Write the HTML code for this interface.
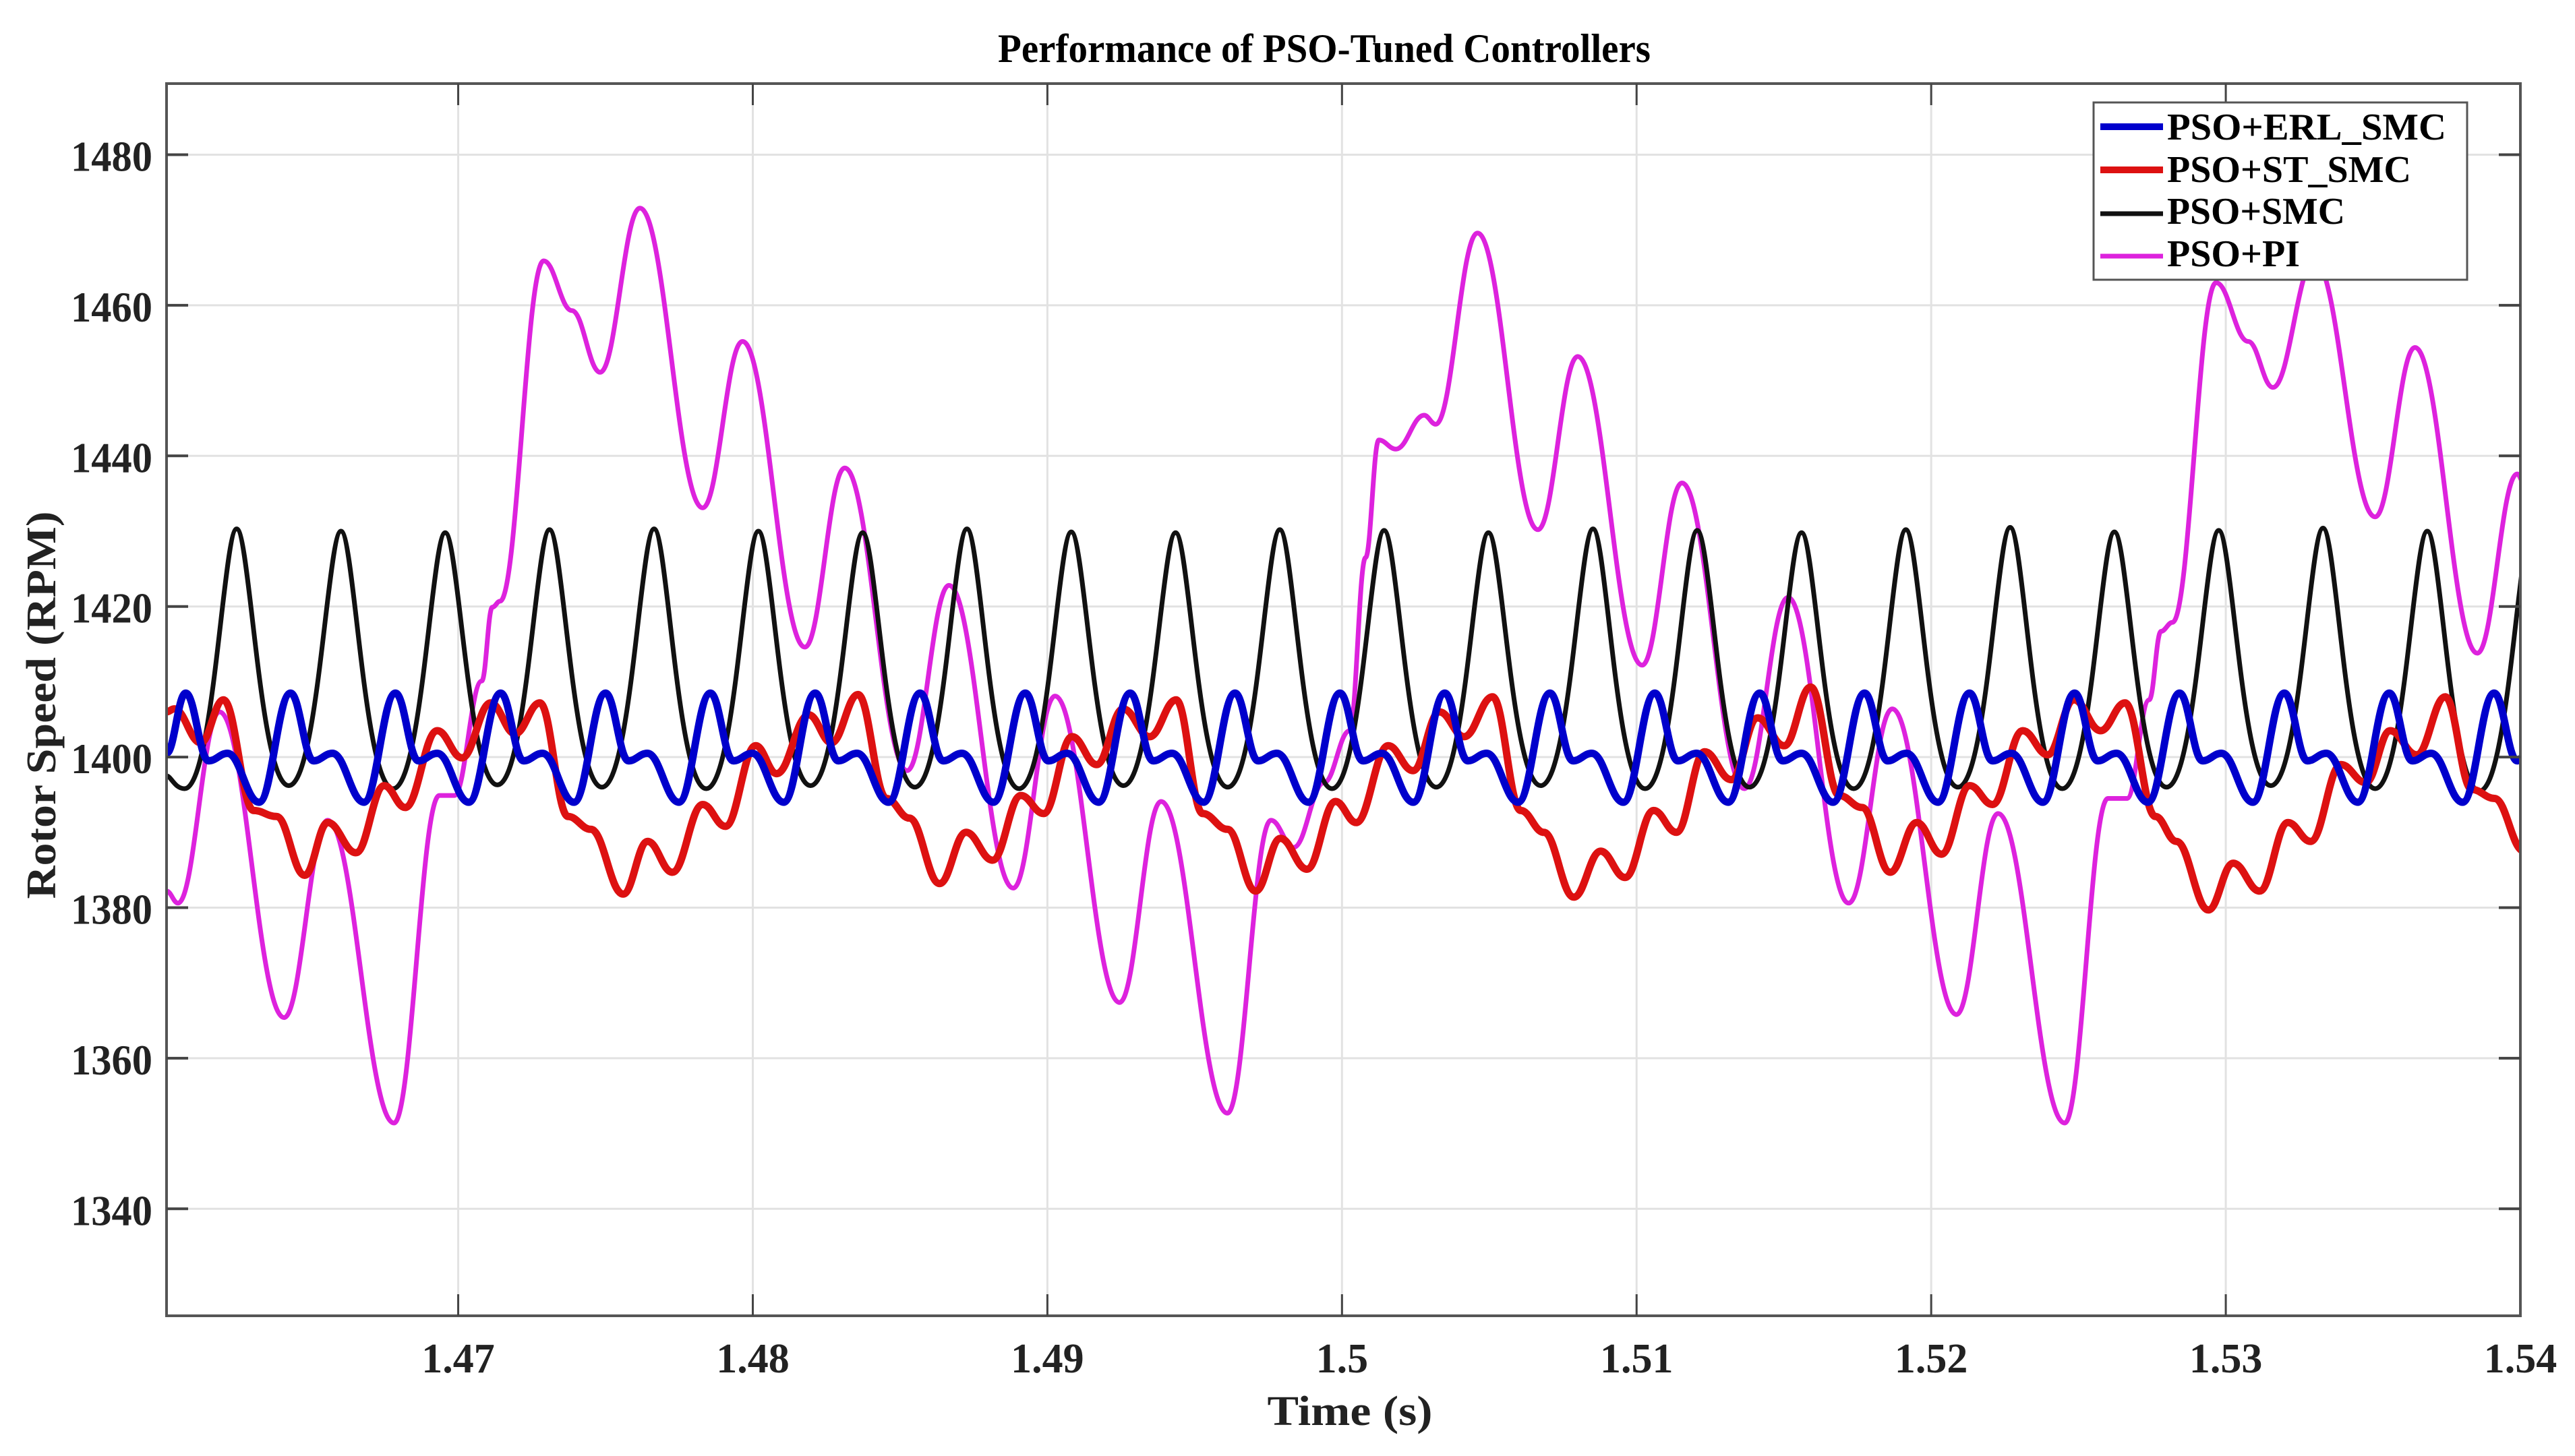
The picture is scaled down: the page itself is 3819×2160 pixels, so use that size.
<!DOCTYPE html>
<html><head><meta charset="utf-8"><style>
html,body{margin:0;padding:0;background:#fff;}
svg{display:block;font-family:"Liberation Serif",serif;font-weight:bold;}
</style></head><body>
<svg id="chart" xmlns="http://www.w3.org/2000/svg" width="3819" height="2160" viewBox="0 0 3819 2160">
<rect width="3819" height="2160" fill="#fff"/>
<text x="1964" y="92" text-anchor="middle" font-size="60" textLength="968" lengthAdjust="spacingAndGlyphs" fill="#000">Performance of PSO-Tuned Controllers</text>
<g id="grid"></g>
<defs><clipPath id="plotclip"><rect x="247" y="124" width="3491" height="1828"/></clipPath></defs>
<g id="series" clip-path="url(#plotclip)"></g>
<rect x="247" y="124" width="3491" height="1828" fill="none" stroke="#555" stroke-width="4"/>
<g id="ticks"></g>
<text transform="translate(82,1046) rotate(-90)" text-anchor="middle" font-size="62" textLength="575" lengthAdjust="spacingAndGlyphs" fill="#222">Rotor Speed (RPM)</text>
<text x="2002" y="2114" text-anchor="middle" font-size="62" textLength="245" lengthAdjust="spacingAndGlyphs" fill="#222">Time (s)</text>
<g>
<rect x="3105" y="152" width="554" height="263" fill="#fff" stroke="#555" stroke-width="3"/>
<line x1="3115" y1="188" x2="3208" y2="188" stroke="#0000cc" stroke-width="10"/>
<text x="3214" y="207" font-size="56" textLength="414" lengthAdjust="spacingAndGlyphs">PSO+ERL_SMC</text>
<line x1="3115" y1="252" x2="3208" y2="252" stroke="#dd1111" stroke-width="10"/>
<text x="3214" y="270" font-size="56" textLength="362" lengthAdjust="spacingAndGlyphs">PSO+ST_SMC</text>
<line x1="3115" y1="317" x2="3208" y2="317" stroke="#111" stroke-width="7"/>
<text x="3214" y="332" font-size="56" textLength="264" lengthAdjust="spacingAndGlyphs">PSO+SMC</text>
<line x1="3115" y1="380" x2="3208" y2="380" stroke="#dd22dd" stroke-width="7"/>
<text x="3214" y="395" font-size="56" textLength="197" lengthAdjust="spacingAndGlyphs">PSO+PI</text>
</g>
</svg>
<script>
const xTicks = [1.47,1.48,1.49,1.50,1.51,1.52,1.53,1.54];
const xTickLabels = ["1.47","1.48","1.49","1.5","1.51","1.52","1.53","1.54"];
const yTicks = [1340,1360,1380,1400,1420,1440,1460,1480];
const yTickLabels = ["1340","1360","1380","1400","1420","1440","1460","1480"];

const blueT = [1.4601,1.46075,1.46153,1.46217,1.46324,1.46431,1.46509,1.46573,1.46680,1.46787,1.46865,1.46929,1.47036,1.47144,1.47222,1.47286,1.47393,1.47500,1.47578,1.47642,1.47749,1.47856,1.47934,1.47998,1.48105,1.48212,1.48290,1.48354,1.48461,1.48568,1.48646,1.48710,1.48817,1.48925,1.49003,1.49067,1.49174,1.49281,1.49359,1.49423,1.49530,1.49637,1.49715,1.49779,1.49886,1.49993,1.50071,1.50135,1.50242,1.50349,1.50427,1.50491,1.50598,1.50706,1.50784,1.50848,1.50955,1.51062,1.51140,1.51204,1.51311,1.51418,1.51496,1.51560,1.51667,1.51774,1.51852,1.51916,1.52023,1.52130,1.52208,1.52272,1.52379,1.52487,1.52565,1.52629,1.52736,1.52843,1.52921,1.52985,1.53092,1.53199,1.53277,1.53341,1.53448,1.53555,1.53633,1.53697,1.53804,1.53911,1.53989,1.5401];
const blueV = [1400.5,1408.5,1399.5,1400.5,1394,1408.5,1399.5,1400.5,1394,1408.5,1399.5,1400.5,1394,1408.5,1399.5,1400.5,1394,1408.5,1399.5,1400.5,1394,1408.5,1399.5,1400.5,1394,1408.5,1399.5,1400.5,1394,1408.5,1399.5,1400.5,1394,1408.5,1399.5,1400.5,1394,1408.5,1399.5,1400.5,1394,1408.5,1399.5,1400.5,1394,1408.5,1399.5,1400.5,1394,1408.5,1399.5,1400.5,1394,1408.5,1399.5,1400.5,1394,1408.5,1399.5,1400.5,1394,1408.5,1399.5,1400.5,1394,1408.5,1399.5,1400.5,1394,1408.5,1399.5,1400.5,1394,1408.5,1399.5,1400.5,1394,1408.5,1399.5,1400.5,1394,1408.5,1399.5,1400.5,1394,1408.5,1399.5,1400.5,1394,1408.5,1399.5,1400];

const blackT = [1.4601,1.46071,1.46248,1.46425,1.46602,1.46779,1.46956,1.47133,1.47310,1.47488,1.47665,1.47842,1.48019,1.48196,1.48373,1.48550,1.48727,1.48904,1.49081,1.49258,1.49435,1.49612,1.49789,1.49966,1.50143,1.50320,1.50497,1.50675,1.50852,1.51029,1.51206,1.51383,1.51560,1.51737,1.51914,1.52091,1.52268,1.52445,1.52622,1.52799,1.52976,1.53153,1.53330,1.53507,1.53684,1.53861,1.54038];
const blackV = [1397.5,1395.8,1430.3,1396.2,1430.0,1395.8,1429.8,1396.3,1430.2,1396.0,1430.3,1395.8,1430.0,1396.2,1429.8,1396.0,1430.3,1395.8,1429.9,1396.2,1429.8,1396.0,1430.2,1395.8,1430.1,1396.0,1429.8,1396.2,1430.3,1395.8,1430.1,1396.0,1429.8,1395.8,1430.2,1396.0,1430.5,1395.8,1429.9,1396.0,1430.1,1396.2,1430.4,1395.8,1430.0,1395.5,1430.0];

const redT = [1.4601,1.46036,1.46126,1.46203,1.46306,1.46383,1.46479,1.46557,1.46653,1.46749,1.46820,1.46929,1.47013,1.47110,1.47193,1.47277,1.47373,1.47450,1.47560,1.47643,1.47727,1.47830,1.47907,1.48010,1.48081,1.48190,1.48267,1.48357,1.48454,1.48531,1.48634,1.48724,1.48814,1.48910,1.48987,1.49084,1.49167,1.49257,1.49347,1.49437,1.49527,1.49611,1.49707,1.49791,1.49881,1.49978,1.50048,1.50157,1.50241,1.50331,1.50415,1.50511,1.50607,1.50685,1.50787,1.50878,1.50961,1.51058,1.51135,1.51231,1.51321,1.51411,1.51501,1.51591,1.51688,1.51765,1.51861,1.51951,1.52035,1.52131,1.52208,1.52311,1.52395,1.52485,1.52575,1.52658,1.52761,1.52832,1.52941,1.53025,1.53115,1.53211,1.53288,1.53391,1.53475,1.53558,1.53648,1.53745,1.53835,1.53912,1.54012];
const redV = [1406,1406.4,1401.9,1407.6,1392.9,1392.1,1384.3,1391.3,1387.3,1396.2,1393.3,1403.5,1399.9,1407.2,1403.1,1407.2,1392.1,1390.4,1381.8,1388.8,1384.7,1393.7,1390.8,1401.5,1397.8,1405.6,1401.9,1408.3,1394.5,1391.9,1383.2,1390.0,1386.3,1394.9,1392.5,1402.7,1399.0,1406.4,1402.7,1407.6,1392.5,1390.4,1382.2,1389.2,1385.1,1394.1,1391.3,1401.5,1398.2,1406.0,1402.7,1408.0,1392.9,1390.0,1381.4,1387.5,1384.0,1392.9,1390.0,1400.7,1397.0,1405.2,1401.5,1409.3,1394.9,1393.3,1384.7,1391.3,1387.1,1396.2,1393.7,1403.5,1400.3,1407.6,1403.5,1407.2,1392.1,1388.8,1379.7,1385.9,1382.2,1391.3,1388.8,1399.0,1396.6,1403.5,1400.3,1408.0,1395.7,1394.5,1387.5];

const piT = [1.4601,1.46049,1.46190,1.46409,1.46557,1.46782,1.46936,1.46987,1.47080,1.47116,1.47142,1.47290,1.47386,1.47482,1.47617,1.47830,1.47965,1.48177,1.48312,1.48524,1.48666,1.48884,1.49026,1.49245,1.49386,1.49611,1.49759,1.49836,1.49939,1.50026,1.50080,1.50125,1.50183,1.50279,1.50318,1.50460,1.50665,1.50800,1.51019,1.51154,1.51366,1.51514,1.51720,1.51868,1.52086,1.52227,1.52453,1.52600,1.52665,1.52740,1.52780,1.52819,1.52967,1.53076,1.53160,1.53301,1.53507,1.53642,1.53854,1.53989,1.54012];
const piV = [1382.2,1380.6,1406.0,1365.4,1391.6,1351.4,1394.9,1394.9,1410.1,1419.9,1420.7,1465.9,1459.3,1451.1,1472.9,1433.1,1455.2,1414.6,1438.4,1398.2,1422.8,1382.6,1408.1,1367.4,1394.1,1352.7,1391.6,1388.0,1396.6,1403.5,1426.5,1442.1,1440.9,1445.4,1444.2,1469.6,1430.2,1453.2,1412.2,1436.4,1395.8,1421.2,1380.6,1406.4,1365.8,1392.5,1351.4,1394.5,1394.5,1407.6,1416.7,1417.9,1463.0,1455.2,1449.1,1466.0,1431.9,1454.4,1413.8,1437.6,1436.4];

const NS = "http://www.w3.org/2000/svg";
const X0 = 247, X1 = 3738, T0 = 1.4601, T1 = 1.54;
const Y1480 = 229.5, PXPER = 11.17;
function xs(t){ return X0 + (t - T0) / (T1 - T0) * (X1 - X0); }
function ys(v){ return Y1480 + (1480 - v) * PXPER; }

const grid = document.getElementById('grid');
const ticks = document.getElementById('ticks');
xTicks.forEach((t, i) => {
  const x = xs(t);
  if (i < xTicks.length - 1) {
    const g = document.createElementNS(NS, 'line');
    g.setAttribute('x1', x); g.setAttribute('x2', x); g.setAttribute('y1', 124); g.setAttribute('y2', 1952);
    g.setAttribute('stroke', '#e2e2e2'); g.setAttribute('stroke-width', 3);
    
    
    grid.appendChild(g);
    [[1952, 1920], [124, 156]].forEach(p => {
      const tk = document.createElementNS(NS, 'line');
      tk.setAttribute('x1', x); tk.setAttribute('x2', x); tk.setAttribute('y1', p[0]); tk.setAttribute('y2', p[1]);
      tk.setAttribute('stroke', '#444'); tk.setAttribute('stroke-width', 3);
      
      
      ticks.appendChild(tk);
    });
  }
  const lb = document.createElementNS(NS, 'text');
  lb.setAttribute('x', x); lb.setAttribute('y', 2036);
  lb.setAttribute('text-anchor', 'middle'); lb.setAttribute('font-size', 62);
  lb.setAttribute('fill', '#222');
  lb.textContent = xTickLabels[i];
  
  
  ticks.appendChild(lb);
});
yTicks.forEach((v, i) => {
  const y = ys(v);
  const g = document.createElementNS(NS, 'line');
  g.setAttribute('x1', 247); g.setAttribute('x2', 3738); g.setAttribute('y1', y); g.setAttribute('y2', y);
  g.setAttribute('stroke', '#e2e2e2'); g.setAttribute('stroke-width', 3);
  
  
  grid.appendChild(g);
  [[247, 279], [3738, 3706]].forEach(p => {
    const tk = document.createElementNS(NS, 'line');
    tk.setAttribute('x1', p[0]); tk.setAttribute('x2', p[1]); tk.setAttribute('y1', y); tk.setAttribute('y2', y);
    tk.setAttribute('stroke', '#444'); tk.setAttribute('stroke-width', 4);
    
    
    ticks.appendChild(tk);
  });
  const lb = document.createElementNS(NS, 'text');
  lb.setAttribute('x', 226); lb.setAttribute('y', y + 24);
  lb.setAttribute('text-anchor', 'end'); lb.setAttribute('font-size', 64);
  lb.setAttribute('textLength', 121); lb.setAttribute('lengthAdjust', 'spacingAndGlyphs');
  lb.setAttribute('fill', '#222');
  lb.textContent = yTickLabels[i];
  
  
  ticks.appendChild(lb);
});

function pathD(T, V, fUp, fDown) {
  let d = 'M' + xs(T[0]).toFixed(1) + ',' + ys(V[0]).toFixed(1);
  for (let i = 1; i < T.length; i++) {
    const x0 = xs(T[i-1]), y0 = ys(V[i-1]), x1 = xs(T[i]), y1 = ys(V[i]);
    const dx = x1 - x0;
    const rising = V[i] > V[i-1];
    const a = rising ? fDown : fUp;
    const b = rising ? fUp : fDown;
    d += ' C' + (x0 + a*dx).toFixed(1) + ',' + y0.toFixed(1) + ' ' + (x1 - b*dx).toFixed(1) + ',' + y1.toFixed(1) + ' ' + x1.toFixed(1) + ',' + y1.toFixed(1);
  }
  return d;
}
const seriesG = document.getElementById('series');
function addSeries(T, V, color, w, fUp, fDown, name) {
  const p = document.createElementNS(NS, 'path');
  p.setAttribute('d', pathD(T, V, fUp, fDown));
  p.setAttribute('fill', 'none'); p.setAttribute('stroke', color);
  p.setAttribute('stroke-width', w); p.setAttribute('stroke-linejoin', 'round');
  
  
  seriesG.appendChild(p);
}
addSeries(piT, piV, '#dd22dd', 7, 0.4, 0.4, 'pso-pi-line');
addSeries(blackT, blackV, '#111111', 7, 0.25, 0.55, 'pso-smc-line');
addSeries(redT, redV, '#dd1111', 11, 0.4, 0.4, 'pso-st-smc-line');
addSeries(blueT, blueV, '#0000cc', 11, 0.4, 0.4, 'pso-erl-smc-line');
</script>
</body></html>
